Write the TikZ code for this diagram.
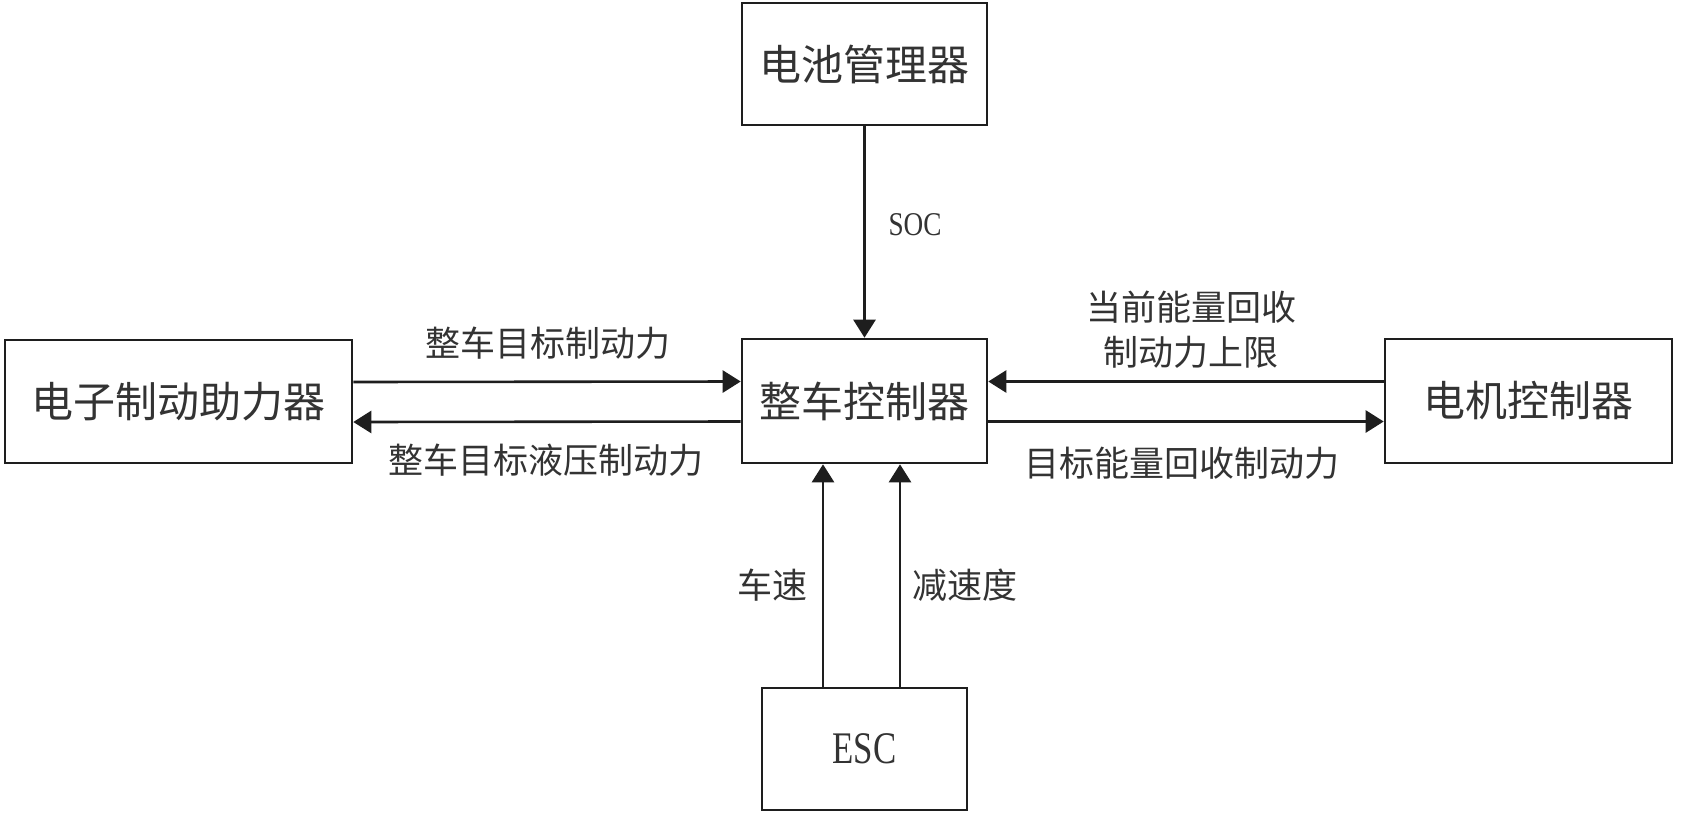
\documentclass[tikz,border=0pt]{standalone}
\usepackage{fontspec}
\setmainfont{Liberation Serif}
\newfontfamily\cjk{Noto Sans CJK SC}
\usetikzlibrary{arrows.meta}
\definecolor{txt}{HTML}{333333}
\definecolor{ln}{HTML}{1E1E1E}
\begin{document}
\begin{tikzpicture}[x=0.5pt,y=-0.5pt,
  blk/.style={draw=ln,line width=1.3pt,fill=white,inner sep=0pt,text=txt,font=\cjk\fontsize{21pt}{25pt}\selectfont},
  lbl/.style={inner sep=0pt,text=txt,font=\cjk\fontsize{17.5pt}{22.5pt}\selectfont,align=center},
  conn/.style={draw=ln,line width=1.3pt,-{Triangle[length=9pt,width=11pt]}}]
\useasboundingbox (0,0) rectangle (1704,820);
\fill[white] (0,0) rectangle (1704,820);
% blocks
\node[blk,minimum width=122.5pt,minimum height=61pt] (bms) at (864.5,64) {电池管理器};
\node[blk,minimum width=173.5pt,minimum height=61.5pt] (ebb) at (178.5,401.5) {电子制动助力器};
\node[blk,minimum width=122.5pt,minimum height=62pt] (vcu) at (864.5,401) {整车控制器};
\node[blk,minimum width=143.5pt,minimum height=62pt] (mcu) at (1528.5,401) {电机控制器};
\node[blk,minimum width=102.5pt,minimum height=61pt,font=\fontsize{22.6pt}{26pt}\selectfont] (esc) at (864.5,749) {\scalebox{0.77}[1]{ESC}};
% connectors
\draw[conn] (bms.south) -- (vcu.north);
\draw[conn] ([yshift=9.75pt]ebb.east) -- ([yshift=9.75pt]vcu.west);
\draw[conn] ([yshift=-10.25pt]vcu.west) -- ([yshift=-10.25pt]ebb.east);
\draw[conn] ([yshift=9.75pt]mcu.west) -- ([yshift=9.75pt]vcu.east);
\draw[conn] ([yshift=-10.25pt]vcu.east) -- ([yshift=-10.25pt]mcu.west);
\draw[conn] ([xshift=-20.75pt]esc.north) -- ([xshift=-20.75pt]vcu.south);
\draw[conn] ([xshift=17.75pt]esc.north) -- ([xshift=17.75pt]vcu.south);
% labels
\node[lbl,font=\fontsize{16.6pt}{20pt}\selectfont] (lsoc) at (915,225) {\scalebox{0.82}[1]{SOC}};
\node[lbl] (l1) at (548,343) {整车目标制动力};
\node[lbl] (l2) at (546,460) {整车目标液压制动力};
\node[lbl] (l3) at (1191,330) {当前能量回收\\制动力上限};
\node[lbl] (l4) at (1182,463) {目标能量回收制动力};
\node[lbl] (l5) at (772,585) {车速};
\node[lbl] (l6) at (965,585) {减速度};
\end{tikzpicture}
\end{document}
